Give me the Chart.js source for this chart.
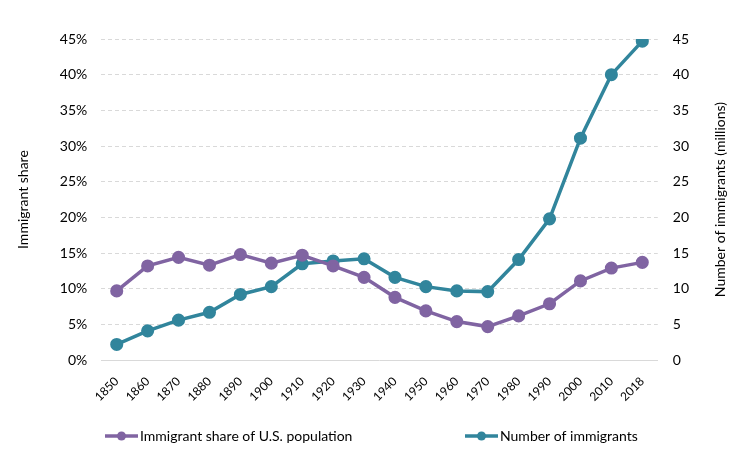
<!DOCTYPE html>
<html>
<head>
<meta charset="utf-8">
<script src="https://cdn.jsdelivr.net/npm/chart.js@4"></script>
<style>
  html, body { margin: 0; padding: 0; background: #fff; }
  #wrap { width: 750px; height: 459px; position: relative; }
</style>
</head>
<body>
<div id="wrap"><canvas id="immChart"></canvas></div>
<script>
// Data
const years = ['1850', '1860', '1870', '1880', '1890', '1900', '1910', '1920', '1930',
               '1940', '1950', '1960', '1970', '1980', '1990', '2000', '2010', '2018'];
const sharePct = [9.7, 13.2, 14.4, 13.3, 14.8, 13.6, 14.7, 13.2, 11.6,
                  8.8, 6.9, 5.4, 4.7, 6.2, 7.9, 11.1, 12.9, 13.7];
const immigrantsMillions = [2.2, 4.1, 5.6, 6.7, 9.2, 10.3, 13.5, 13.9, 14.2,
                            11.6, 10.3, 9.7, 9.6, 14.1, 19.8, 31.1, 40.0, 44.7];

const purple = '#8064a2';
const teal = '#31859c';
const fontFamily = 'Lato, "Open Sans", sans-serif';
const rightTitle = 'Number of immigrants (millions)';

// Excel-style bottom legend (line with dot) and the right axis title,
// which reads bottom-to-top in the original
const extrasPlugin = {
    id: 'extras',
    afterDraw(chart) {
        const ctx = chart.ctx;
        const y = 436;
        const starts = [105, 465];
        ctx.save();
        ctx.font = '14px ' + fontFamily;
        ctx.textBaseline = 'middle';
        ctx.textAlign = 'left';
        chart.data.datasets.forEach((ds, i) => {
            const x = starts[i];
            ctx.strokeStyle = ds.borderColor;
            ctx.lineWidth = 3.5;
            ctx.beginPath();
            ctx.moveTo(x, y);
            ctx.lineTo(x + 33, y);
            ctx.stroke();
            ctx.fillStyle = ds.borderColor;
            ctx.beginPath();
            ctx.arc(x + 16.5, y, 4.5, 0, Math.PI * 2);
            ctx.fill();
            ctx.fillStyle = '#000';
            ctx.fillText(ds.label, x + 35, y);
        });

        const area = chart.chartArea;
        ctx.translate(720, (area.top + area.bottom) / 2);
        ctx.rotate(-Math.PI / 2);
        ctx.textAlign = 'center';
        ctx.fillText(rightTitle, 0, 0);
        ctx.restore();
    }
};

function initChart() {
    const ctx = document.getElementById('immChart').getContext('2d');

    new Chart(ctx, {
        type: 'line',
        data: {
            labels: years,
            datasets: [{
                label: 'Immigrant share of U.S. population',
                data: sharePct,
                yAxisID: 'yShare',
                borderColor: purple,
                backgroundColor: purple,
                borderWidth: 3.5,
                pointRadius: 4.8,
                pointHoverRadius: 4.8,
                tension: 0
            }, {
                label: 'Number of immigrants',
                data: immigrantsMillions,
                yAxisID: 'yCount',
                borderColor: teal,
                backgroundColor: teal,
                borderWidth: 3.5,
                pointRadius: 4.8,
                pointHoverRadius: 4.8,
                tension: 0
            }]
        },
        plugins: [extrasPlugin],
        options: {
            responsive: true,
            maintainAspectRatio: false,
            animation: false,
            layout: {
                padding: { left: 11, right: 46, top: 39, bottom: 49 }
            },
            plugins: {
                legend: { display: false },
                tooltip: { enabled: false }
            },
            scales: {
                x: {
                    offset: true,
                    grid: { display: false },
                    border: { display: true, color: '#d9d9d9', width: 1 },
                    ticks: {
                        color: '#000',
                        maxRotation: 45,
                        minRotation: 45,
                        padding: 6,
                        font: { family: fontFamily, size: 12 }
                    }
                },
                yShare: {
                    position: 'left',
                    min: 0,
                    max: 45,
                    ticks: {
                        stepSize: 5,
                        color: '#000',
                        padding: 14,
                        font: { family: fontFamily, size: 14 },
                        callback: function(v) { return v + '%'; }
                    },
                    grid: { color: '#d9d9d9', drawTicks: false },
                    border: { display: false, dash: [4, 3] },
                    title: {
                        display: true,
                        text: 'Immigrant share',
                        color: '#000',
                        padding: { bottom: 14 },
                        font: { family: fontFamily, size: 14 }
                    }
                },
                yCount: {
                    position: 'right',
                    min: 0,
                    max: 45,
                    ticks: {
                        stepSize: 5,
                        color: '#000',
                        padding: 15,
                        font: { family: fontFamily, size: 14 }
                    },
                    grid: { drawOnChartArea: false, drawTicks: false },
                    border: { display: false }
                }
            }
        }
    });
}

document.addEventListener('DOMContentLoaded', initChart);
</script>
</body>
</html>
